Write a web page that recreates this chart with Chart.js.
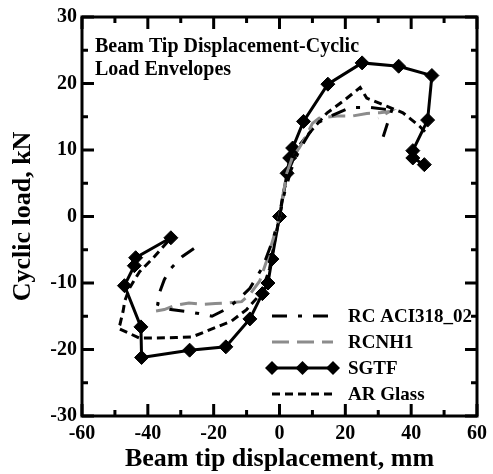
<!DOCTYPE html>
<html>
<head>
<meta charset="utf-8">
<script src="https://cdn.jsdelivr.net/npm/chart.js@4.4.0/dist/chart.umd.min.js"></script>
<style>
  html, body { margin: 0; padding: 0; background: #fff; }
  #chart { display: block; }
</style>
</head>
<body>
<canvas id="chart" width="493" height="474"></canvas>
<script>
// =========================
// DATA
// =========================

const xTicks = [-60, -40, -20, 0, 20, 40, 60];
const xMinorTicks = [-50, -30, -10, 10, 30, 50];
const yTicks = [-30, -20, -10, 0, 10, 20, 30];
const yMinorTicks = [-25, -15, -5, 5, 15, 25];

const seriesNames = ["RC ACI318_02", "RCNH1", "SGTF", "AR Glass"];

const aciX = [-26, -29.5, -33, -35, -36.5, -37, -33, -28, -24.5, -20.5, -16.5, -13, -9, -5, -2, 0, 1.5, 3.5, 6, 9, 12, 15.5, 21.5, 27.5, 32.5, 34.5, 31.5];
const aciY = [-4.8, -6, -7.8, -9.5, -11.5, -13.2, -14, -14.3, -14.6, -15, -14, -12.7, -10.8, -7.5, -3.5, 0, 3.5, 7, 10, 12.5, 14.2, 15.1, 16.4, 16.4, 16.1, 16.6, 12];

const nhX = [-37.5, -35, -32, -27.5, -23.5, -19.5, -15.5, -11.5, -9, -6, -4, -2, 0, 1, 2.2, 4, 6, 8, 10, 12, 14, 17.5, 22, 26.5, 30.5, 33.5, 30];
const nhY = [-14.2, -14, -13.4, -13, -13.2, -13.1, -13, -12.8, -11.7, -9.7, -6.8, -3.5, 0, 3, 6.5, 9, 10.3, 12, 14, 14.8, 14.9, 15.1, 15.1, 15.5, 15.6, 15.8, 14.8];

const sgtfX = [-33, -43.7, -44.1, -47.1, -42.1, -41.9, -27.3, -16.3, -9, -5.2, -3.5, -2.3, 0, 2.3, 3.1, 4, 7.3, 14.7, 25.1, 36.2, 46.3, 45, 40.5, 40.5, 44];
const sgtfY = [-3.2, -6.2, -7.4, -10.4, -16.6, -21.2, -20.1, -19.6, -15.4, -11.6, -10, -6.4, 0, 6.5, 8.8, 10.3, 14.3, 19.9, 23.1, 22.6, 21.2, 14.5, 9.9, 8.8, 7.8];

const arX = [-34, -38.5, -42.5, -45.5, -47, -47.5, -48.5, -49, -42.5, -31.5, -26.5, -19.5, -14.5, -10, -5.5, -3, -1.5, 0, 1, 3, 6, 10, 14.5, 19.5, 24.5, 26.5, 32.5, 37.5, 42.5, 44.5];
const arY = [-3.8, -6.3, -8.3, -10.7, -12.7, -14.2, -16.3, -16.8, -18.3, -18.2, -18.1, -16.7, -15.7, -14, -11.5, -7.8, -3.8, 0, 3.2, 7.2, 10.7, 13.1, 15.6, 17.4, 19.4, 17.8, 16.6, 15.6, 13.6, 12.6];

const annotationLines = ["Beam Tip Displacement-Cyclic", "Load Envelopes"];


// =========================
// HELPERS
// =========================

const SERIF = "'Liberation Serif', 'Times New Roman', serif";

function toPoints(xs, ys) {
  return xs.map((x, i) => ({ x: x, y: ys[i] }));
}

function diamond(ctx, x, y, r) {
  ctx.beginPath();
  ctx.moveTo(x - r, y);
  ctx.lineTo(x, y - r);
  ctx.lineTo(x + r, y);
  ctx.lineTo(x, y + r);
  ctx.closePath();
  ctx.fill();
}

// frame + inward ticks on all four sides
const framePlugin = {
  id: "frame",
  afterDraw(chart) {
    const { ctx, chartArea: a, scales } = chart;
    ctx.save();
    ctx.strokeStyle = "#000";
    ctx.lineCap = "butt";

    const tick = (vals, len) => {
      vals.forEach(v => {
        const px = scales.x.getPixelForValue(v);
        ctx.beginPath();
        ctx.moveTo(px, a.bottom); ctx.lineTo(px, a.bottom - len);
        ctx.moveTo(px, a.top); ctx.lineTo(px, a.top + len);
        ctx.stroke();
      });
    };
    const ytick = (vals, len) => {
      vals.forEach(v => {
        const py = scales.y.getPixelForValue(v);
        ctx.beginPath();
        ctx.moveTo(a.left, py); ctx.lineTo(a.left + len, py);
        ctx.moveTo(a.right, py); ctx.lineTo(a.right - len, py);
        ctx.stroke();
      });
    };
    ctx.lineWidth = 3;
    tick(xTicks, 12);
    ytick(yTicks, 12);
    tick(xMinorTicks, 6);
    ytick(yMinorTicks, 6);

    ctx.lineWidth = 3;
    ctx.strokeRect(a.left, a.top, a.right - a.left, a.bottom - a.top);
    ctx.restore();
  }
};

// in-plot title text and legend
const notesPlugin = {
  id: "notes",
  afterDatasetsDraw(chart) {
    const { ctx, chartArea: a } = chart;
    ctx.save();
    ctx.fillStyle = "#000";
    ctx.textAlign = "left";
    ctx.textBaseline = "middle";
    ctx.font = "bold 20px " + SERIF;
    annotationLines.forEach((t, i) => ctx.fillText(t, a.left + 13, a.top + 30 + i * 23));

    ctx.font = "bold 19px " + SERIF;
    chart.data.datasets.forEach((ds, i) => {
      const y = a.top + 299 + i * 26;
      const x0 = a.left + 190, x1 = a.left + 251;
      ctx.strokeStyle = ds.borderColor;
      ctx.lineWidth = ds.borderWidth;
      ctx.setLineDash(ds.borderDash || []);
      ctx.beginPath();
      ctx.moveTo(x0, y);
      ctx.lineTo(x1, y);
      ctx.stroke();
      ctx.setLineDash([]);
      if (ds.pointRadius > 0) {
        ctx.fillStyle = ds.pointBackgroundColor;
        [x0, (x0 + x1) / 2, x1].forEach(px => diamond(ctx, px, y, ds.pointRadius));
      }
      ctx.fillStyle = "#000";
      ctx.fillText(ds.label, a.left + 266, y + 1);
    });
    ctx.restore();
  }
};


// =========================
// RENDER
// =========================

const line = (label, pts, color, dash, extra) => Object.assign({
  label: label,
  data: pts,
  showLine: true,
  borderColor: color,
  borderWidth: 3,
  borderDash: dash,
  pointRadius: 0,
  fill: false,
  tension: 0
}, extra || {});

new Chart(document.getElementById("chart").getContext("2d"), {
  type: "scatter",
  data: {
    datasets: [
      line(seriesNames[0], toPoints(aciX, aciY), "#000", [15, 11, 4, 11]),
      line(seriesNames[1], toPoints(nhX, nhY), "#8c8c8c", [17, 8]),
      line(seriesNames[2], toPoints(sgtfX, sgtfY), "#000", [], {
        pointRadius: 7,
        pointStyle: "rectRot",
        pointBackgroundColor: "#000",
        pointBorderColor: "#000",
        pointBorderWidth: 1
      }),
      line(seriesNames[3], toPoints(arX, arY), "#000", [8, 5])
    ]
  },
  options: {
    responsive: false,
    animation: false,
    layout: { padding: { top: 14, right: 11, left: 0, bottom: 0 } },
    plugins: {
      legend: { display: false },
      tooltip: { enabled: false }
    },
    scales: {
      x: {
        type: "linear",
        min: -60,
        max: 60,
        afterBuildTicks(s) { s.ticks = xTicks.map(v => ({ value: v })); },
        afterFit(s) { s.height = 58; },
        grid: { display: false, drawTicks: false },
        border: { display: false },
        ticks: {
          color: "#000",
          padding: 6,
          maxRotation: 0,
          font: { family: SERIF, size: 20, weight: "bold" }
        },
        title: {
          display: true,
          text: "Beam tip displacement, mm",
          color: "#000",
          padding: { top: 0, bottom: 0 },
          font: { family: SERIF, size: 26, weight: "bold", lineHeight: 1.1 }
        }
      },
      y: {
        type: "linear",
        min: -30,
        max: 30,
        afterBuildTicks(s) { s.ticks = yTicks.map(v => ({ value: v })); },
        afterFit(s) { s.width = 82; },
        grid: { display: false, drawTicks: false },
        border: { display: false },
        ticks: {
          color: "#000",
          padding: 5,
          font: { family: SERIF, size: 20, weight: "bold" }
        },
        title: {
          display: true,
          text: "Cyclic load, kN",
          color: "#000",
          padding: { top: 9, bottom: 0 },
          font: { family: SERIF, size: 26, weight: "bold", lineHeight: 1.1 }
        }
      }
    }
  },
  plugins: [framePlugin, notesPlugin]
});
</script>
</body>
</html>
